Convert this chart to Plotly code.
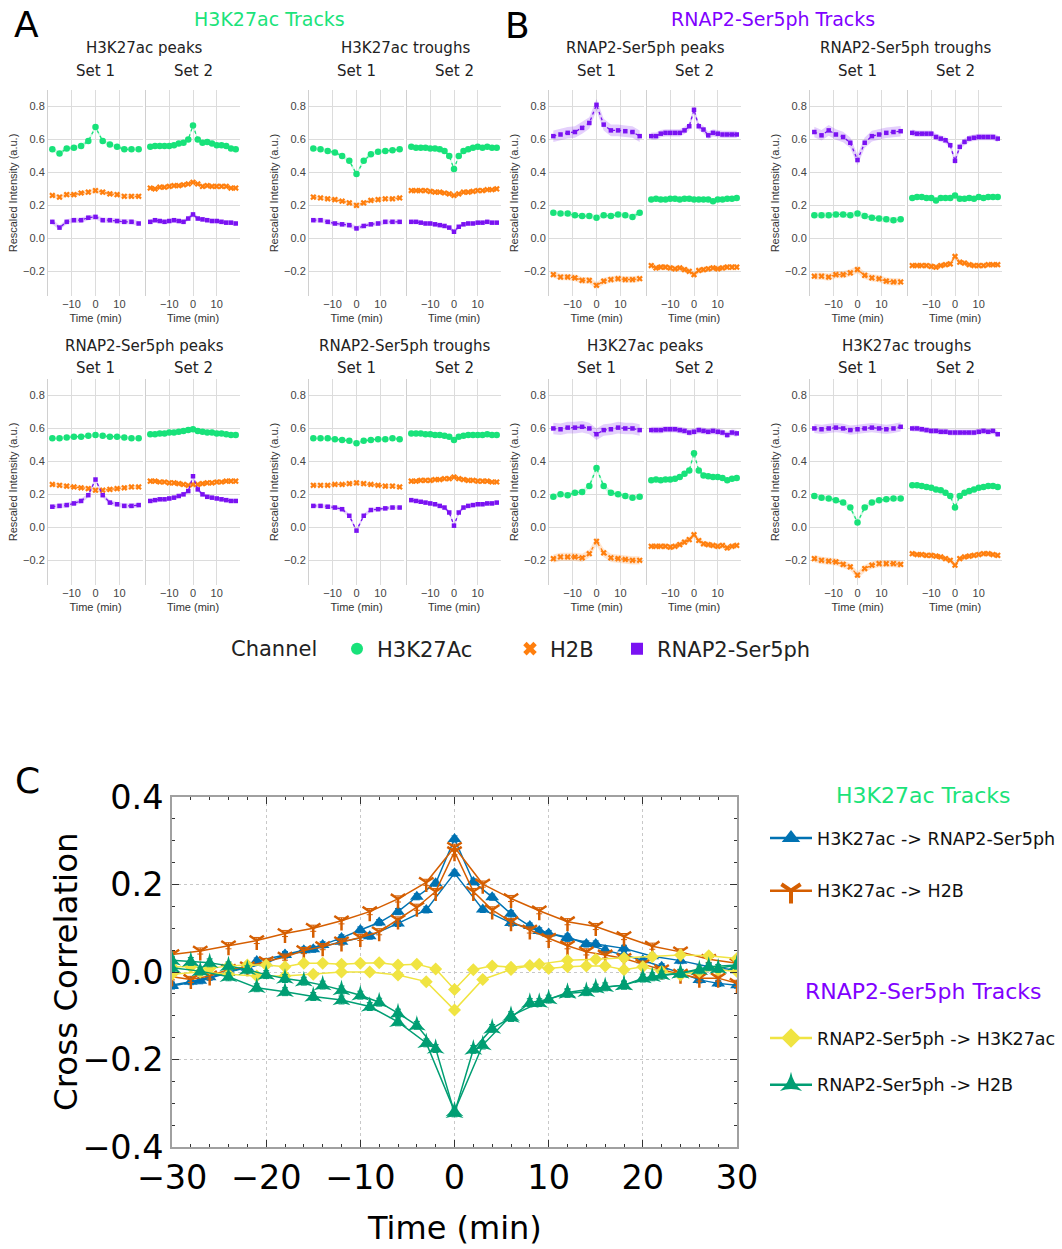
import plotly.graph_objects as go

W, H = 1062, 1249

# ---------------- time axes ----------------
T_SET1 = [-18, -15, -12, -9, -6, -3, 0, 3, 6, 9, 12, 15, 18]
T_SET2 = [-18, -16, -14, -12, -10, -8, -6, -4, -2, 0, 2, 4, 6, 8, 10, 12, 14, 16, 18]

CHANNELS = ["H3K27Ac", "H2B", "RNAP2-Ser5ph"]

# ---------------- panel A / B data ----------------
# P1: H3K27ac Tracks - H3K27ac peaks
P1_S1_H3 = [0.54, 0.515, 0.545, 0.55, 0.56, 0.59, 0.675, 0.59, 0.57, 0.555, 0.54, 0.54, 0.54]
P1_S1_H2B = [0.26, 0.25, 0.265, 0.265, 0.275, 0.28, 0.29, 0.28, 0.27, 0.265, 0.255, 0.255, 0.255]
P1_S1_POL = [0.10, 0.065, 0.10, 0.11, 0.11, 0.125, 0.13, 0.11, 0.11, 0.105, 0.10, 0.10, 0.09]
P1_S2_H3 = [0.555, 0.56, 0.56, 0.56, 0.56, 0.565, 0.575, 0.58, 0.60, 0.685, 0.60, 0.58, 0.585, 0.575, 0.565, 0.565, 0.56, 0.545, 0.54]
P1_S2_H2B = [0.305, 0.30, 0.31, 0.31, 0.315, 0.32, 0.32, 0.325, 0.33, 0.34, 0.33, 0.315, 0.32, 0.315, 0.315, 0.315, 0.315, 0.305, 0.305]
P1_S2_POL = [0.10, 0.11, 0.105, 0.10, 0.105, 0.11, 0.105, 0.10, 0.12, 0.145, 0.12, 0.115, 0.11, 0.105, 0.105, 0.10, 0.095, 0.095, 0.09]

# P2: H3K27ac Tracks - H3K27ac troughs
P2_S1_H3 = [0.545, 0.54, 0.53, 0.52, 0.50, 0.47, 0.39, 0.47, 0.51, 0.525, 0.53, 0.535, 0.54]
P2_S1_H2B = [0.25, 0.245, 0.24, 0.235, 0.225, 0.215, 0.20, 0.215, 0.23, 0.235, 0.24, 0.24, 0.245]
P2_S1_POL = [0.11, 0.11, 0.10, 0.09, 0.085, 0.08, 0.06, 0.075, 0.085, 0.09, 0.10, 0.10, 0.10]
P2_S2_H3 = [0.555, 0.55, 0.55, 0.55, 0.545, 0.545, 0.54, 0.53, 0.50, 0.42, 0.50, 0.53, 0.54, 0.55, 0.555, 0.55, 0.555, 0.55, 0.55]
P2_S2_H2B = [0.29, 0.29, 0.29, 0.29, 0.285, 0.28, 0.28, 0.275, 0.27, 0.26, 0.27, 0.28, 0.28, 0.285, 0.29, 0.29, 0.295, 0.295, 0.30]
P2_S2_POL = [0.10, 0.10, 0.095, 0.09, 0.09, 0.085, 0.08, 0.075, 0.065, 0.04, 0.07, 0.085, 0.09, 0.09, 0.095, 0.095, 0.10, 0.095, 0.095]

# P3: RNAP2-Ser5ph Tracks - RNAP2-Ser5ph peaks
P3_S1_H3 = [0.155, 0.15, 0.15, 0.14, 0.135, 0.135, 0.125, 0.14, 0.135, 0.145, 0.14, 0.13, 0.155]
P3_S1_H2B = [-0.22, -0.235, -0.235, -0.24, -0.255, -0.255, -0.285, -0.26, -0.25, -0.245, -0.25, -0.25, -0.245]
P3_S1_POL = [0.62, 0.63, 0.64, 0.645, 0.67, 0.70, 0.81, 0.69, 0.655, 0.655, 0.65, 0.645, 0.62]
P3_S2_H3 = [0.235, 0.24, 0.235, 0.235, 0.24, 0.24, 0.235, 0.24, 0.24, 0.235, 0.235, 0.235, 0.235, 0.225, 0.235, 0.235, 0.24, 0.24, 0.245]
P3_S2_H2B = [-0.165, -0.18, -0.175, -0.175, -0.18, -0.185, -0.18, -0.19, -0.20, -0.22, -0.195, -0.19, -0.185, -0.18, -0.185, -0.18, -0.175, -0.175, -0.175]
P3_S2_POL = [0.62, 0.62, 0.635, 0.64, 0.64, 0.64, 0.64, 0.655, 0.68, 0.78, 0.68, 0.66, 0.625, 0.64, 0.635, 0.63, 0.63, 0.63, 0.63]

# P4: RNAP2-Ser5ph Tracks - RNAP2-Ser5ph troughs
P4_S1_H3 = [0.14, 0.14, 0.14, 0.145, 0.145, 0.14, 0.15, 0.135, 0.125, 0.12, 0.115, 0.11, 0.115]
P4_S1_H2B = [-0.23, -0.23, -0.235, -0.22, -0.22, -0.21, -0.19, -0.225, -0.24, -0.245, -0.26, -0.265, -0.265]
P4_S1_POL = [0.645, 0.625, 0.655, 0.63, 0.615, 0.58, 0.475, 0.58, 0.62, 0.63, 0.64, 0.645, 0.65]
P4_S2_H3 = [0.245, 0.25, 0.25, 0.245, 0.245, 0.23, 0.245, 0.245, 0.245, 0.26, 0.24, 0.24, 0.245, 0.24, 0.25, 0.245, 0.25, 0.25, 0.25]
P4_S2_H2B = [-0.165, -0.165, -0.165, -0.165, -0.17, -0.175, -0.165, -0.16, -0.155, -0.11, -0.145, -0.15, -0.16, -0.165, -0.165, -0.165, -0.16, -0.16, -0.16]
P4_S2_POL = [0.64, 0.635, 0.635, 0.635, 0.635, 0.615, 0.605, 0.595, 0.565, 0.47, 0.555, 0.585, 0.605, 0.61, 0.615, 0.615, 0.615, 0.615, 0.605]

# P5: H3K27ac Tracks - RNAP2-Ser5ph peaks
P5_S1_H3 = [0.54, 0.54, 0.545, 0.55, 0.55, 0.555, 0.56, 0.555, 0.55, 0.55, 0.545, 0.54, 0.54]
P5_S1_H2B = [0.26, 0.255, 0.25, 0.245, 0.24, 0.235, 0.225, 0.225, 0.23, 0.235, 0.24, 0.245, 0.245]
P5_S1_POL = [0.125, 0.13, 0.135, 0.145, 0.16, 0.195, 0.29, 0.195, 0.15, 0.14, 0.13, 0.13, 0.135]
P5_S2_H3 = [0.565, 0.565, 0.57, 0.57, 0.575, 0.575, 0.58, 0.585, 0.59, 0.595, 0.585, 0.58, 0.575, 0.575, 0.57, 0.57, 0.565, 0.56, 0.56]
P5_S2_H2B = [0.28, 0.28, 0.275, 0.275, 0.27, 0.27, 0.265, 0.26, 0.255, 0.26, 0.26, 0.265, 0.27, 0.27, 0.275, 0.275, 0.28, 0.28, 0.28]
P5_S2_POL = [0.16, 0.165, 0.17, 0.17, 0.175, 0.18, 0.19, 0.20, 0.22, 0.31, 0.23, 0.20, 0.185, 0.18, 0.175, 0.17, 0.165, 0.16, 0.16]

# P6: H3K27ac Tracks - RNAP2-Ser5ph troughs
P6_S1_H3 = [0.54, 0.54, 0.54, 0.535, 0.53, 0.525, 0.51, 0.525, 0.53, 0.535, 0.535, 0.54, 0.535]
P6_S1_H2B = [0.255, 0.255, 0.255, 0.26, 0.26, 0.265, 0.27, 0.265, 0.26, 0.255, 0.25, 0.25, 0.245]
P6_S1_POL = [0.13, 0.13, 0.125, 0.12, 0.11, 0.07, -0.02, 0.07, 0.105, 0.11, 0.115, 0.12, 0.12]
P6_S2_H3 = [0.57, 0.57, 0.57, 0.565, 0.565, 0.56, 0.56, 0.555, 0.55, 0.53, 0.55, 0.555, 0.56, 0.56, 0.56, 0.56, 0.565, 0.56, 0.56]
P6_S2_H2B = [0.28, 0.28, 0.285, 0.285, 0.285, 0.29, 0.29, 0.295, 0.295, 0.305, 0.295, 0.29, 0.285, 0.285, 0.28, 0.28, 0.28, 0.275, 0.275]
P6_S2_POL = [0.165, 0.16, 0.155, 0.15, 0.145, 0.14, 0.13, 0.12, 0.09, 0.01, 0.09, 0.12, 0.13, 0.135, 0.14, 0.14, 0.145, 0.145, 0.15]

# P7: RNAP2-Ser5ph Tracks - H3K27ac peaks
P7_S1_H3 = [0.185, 0.20, 0.195, 0.21, 0.215, 0.25, 0.36, 0.25, 0.21, 0.20, 0.19, 0.18, 0.185]
P7_S1_H2B = [-0.19, -0.18, -0.18, -0.18, -0.185, -0.16, -0.085, -0.155, -0.185, -0.19, -0.195, -0.20, -0.20]
P7_S1_POL = [0.60, 0.595, 0.605, 0.605, 0.61, 0.60, 0.565, 0.59, 0.595, 0.605, 0.60, 0.60, 0.59]
P7_S2_H3 = [0.285, 0.29, 0.285, 0.29, 0.29, 0.295, 0.305, 0.325, 0.345, 0.45, 0.345, 0.315, 0.31, 0.305, 0.305, 0.30, 0.285, 0.295, 0.30]
P7_S2_H2B = [-0.115, -0.115, -0.115, -0.115, -0.12, -0.115, -0.105, -0.09, -0.075, -0.045, -0.08, -0.10, -0.105, -0.11, -0.115, -0.11, -0.125, -0.115, -0.11]
P7_S2_POL = [0.59, 0.59, 0.59, 0.595, 0.595, 0.595, 0.59, 0.585, 0.575, 0.58, 0.59, 0.585, 0.58, 0.585, 0.58, 0.575, 0.56, 0.575, 0.57]

# P8: RNAP2-Ser5ph Tracks - H3K27ac troughs
P8_S1_H3 = [0.19, 0.18, 0.175, 0.165, 0.15, 0.12, 0.03, 0.12, 0.15, 0.165, 0.17, 0.175, 0.175]
P8_S1_H2B = [-0.19, -0.20, -0.205, -0.21, -0.225, -0.24, -0.29, -0.25, -0.23, -0.22, -0.22, -0.22, -0.225]
P8_S1_POL = [0.60, 0.595, 0.60, 0.605, 0.60, 0.59, 0.595, 0.60, 0.605, 0.60, 0.595, 0.60, 0.61]
P8_S2_H3 = [0.255, 0.255, 0.25, 0.245, 0.24, 0.23, 0.225, 0.21, 0.19, 0.12, 0.19, 0.21, 0.22, 0.23, 0.24, 0.245, 0.25, 0.25, 0.245]
P8_S2_H2B = [-0.16, -0.165, -0.165, -0.17, -0.17, -0.175, -0.18, -0.19, -0.20, -0.23, -0.19, -0.18, -0.175, -0.17, -0.165, -0.16, -0.16, -0.165, -0.17]
P8_S2_POL = [0.60, 0.60, 0.595, 0.59, 0.585, 0.585, 0.58, 0.58, 0.575, 0.575, 0.575, 0.575, 0.575, 0.575, 0.58, 0.585, 0.58, 0.585, 0.565]

# confidence half-widths per channel (H3K27Ac, H2B, RNAP2-Ser5ph), per panel & set
P1_CI = [[0.012, 0.013, 0.015], [0.010, 0.010, 0.014]]
P2_CI = [[0.012, 0.012, 0.014], [0.010, 0.010, 0.012]]
P3_CI = [[0.015, 0.020, 0.035], [0.012, 0.018, 0.022]]
P4_CI = [[0.018, 0.022, 0.032], [0.013, 0.017, 0.020]]
P5_CI = [[0.010, 0.012, 0.014], [0.008, 0.010, 0.012]]
P6_CI = [[0.010, 0.010, 0.012], [0.008, 0.010, 0.012]]
P7_CI = [[0.015, 0.025, 0.035], [0.013, 0.018, 0.020]]
P8_CI = [[0.015, 0.022, 0.028], [0.012, 0.016, 0.018]]

PANEL_TITLES = ["H3K27ac peaks", "H3K27ac troughs", "RNAP2-Ser5ph peaks", "RNAP2-Ser5ph troughs",
                "RNAP2-Ser5ph peaks", "RNAP2-Ser5ph troughs", "H3K27ac peaks", "H3K27ac troughs"]
SET_LABELS = ["Set 1", "Set 2"]

# ---------------- panel C data ----------------
TC_SET1 = list(range(-30, 31, 3))
TC_SET2 = list(range(-30, 31, 2))

C_H3_POL_S1 = [-0.032, -0.020, -0.002, 0.025, 0.039, 0.052, 0.069, 0.082, 0.111, 0.142, 0.226,
               0.143, 0.112, 0.094, 0.077, 0.064, 0.054, 0.036, 0.026, 0.012, 0.004]
C_H3_POL_S2 = [-0.030, -0.022, -0.012, 0.000, 0.010, 0.020, 0.040, 0.050, 0.062, 0.078, 0.096, 0.113,
               0.138, 0.172, 0.203, 0.304, 0.206, 0.171, 0.133, 0.105, 0.088, 0.080, 0.064, 0.050,
               0.039, 0.027, 0.012, -0.002, -0.018, -0.026, -0.030]
C_H3_H2B_S1 = [0.040, 0.048, 0.060, 0.072, 0.088, 0.100, 0.117, 0.138, 0.167, 0.205, 0.285,
               0.201, 0.168, 0.140, 0.115, 0.104, 0.081, 0.059, 0.046, 0.029, 0.020]
C_H3_H2B_S2 = [-0.011, -0.017, -0.009, 0.006, 0.012, 0.024, 0.034, 0.049, 0.058, 0.069, 0.079, 0.092,
               0.119, 0.148, 0.184, 0.275, 0.184, 0.142, 0.115, 0.096, 0.077, 0.060, 0.046, 0.039,
               0.031, 0.018, 0.005, -0.005, -0.014, -0.014, -0.026]
C_POL_H3_S1 = [-0.005, 0.000, -0.005, -0.009, -0.009, -0.005, 0.000, 0.000, -0.007, -0.022, -0.087,
               -0.017, 0.006, 0.018, 0.027, 0.029, 0.032, 0.035, 0.039, 0.037, 0.031]
C_POL_H3_S2 = [0.012, 0.012, 0.008, 0.014, 0.016, 0.016, 0.012, 0.020, 0.020, 0.018, 0.020, 0.021,
               0.016, 0.018, 0.007, -0.040, 0.005, 0.014, 0.011, 0.015, 0.008, 0.012, 0.014, 0.014,
               0.005, 0.012, 0.001, -0.007, 0.001, 0.005, 0.001]
C_POL_H2B_S1 = [0.010, 0.002, -0.011, -0.036, -0.045, -0.056, -0.064, -0.079, -0.114, -0.162, -0.318,
                -0.167, -0.100, -0.070, -0.047, -0.037, -0.030, -0.011, -0.003, 0.012, 0.016]
C_POL_H2B_S2 = [0.027, 0.024, 0.021, 0.014, 0.005, -0.006, -0.015, -0.021, -0.030, -0.041, -0.053, -0.069,
                -0.094, -0.122, -0.175, -0.322, -0.177, -0.129, -0.104, -0.070, -0.062, -0.049, -0.045,
                -0.034, -0.030, -0.014, -0.007, -0.003, 0.005, 0.008, 0.016]
C_ERR = [0.007, 0.007, 0.006, 0.009]  # per series error-bar half-size

C_NAMES = ["H3K27ac -> RNAP2-Ser5ph", "H3K27ac -> H2B", "RNAP2-Ser5ph -> H3K27ac", "RNAP2-Ser5ph -> H2B"]

# ---------------- styles ----------------
CH_COLORS = ["#18e27a", "#ff7f0e", "#7a12f2"]
CH_FILL = ["rgba(24,226,122,0.2)", "rgba(255,127,14,0.2)", "rgba(122,18,242,0.2)"]
CH_SYMBOL = ["circle", "x", "square"]
CH_SIZE = [6.5, 5.5, 4.5]
GREEN_T = "#1be37a"
PURPLE_T = "#8000ff"
C_COLORS = ["#0072B2", "#D55E00", "#F0E442", "#009E73"]
C_SYMBOLS = ["triangle-up", "y-down", "diamond", "star-triangle-up"]
C_MSIZE = [12, 12, 10, 13]
C_LEG_MSIZE = [16, 16, 15, 16]

DJ = "DejaVu Sans"
AR = "Liberation Sans, Arial"

COL_X = [48, 309, 549, 810]
ROW_Y = [90, 379]
PH = 206
CH_LEGEND_X = [337, 510, 617]        # left edge of each channel legend entry (px)
CH_LEGEND_IDS = ["legend", "legend4", "legend5"]

panels = [
    (P1_S1_H3, P1_S1_H2B, P1_S1_POL, P1_S2_H3, P1_S2_H2B, P1_S2_POL, P1_CI),
    (P2_S1_H3, P2_S1_H2B, P2_S1_POL, P2_S2_H3, P2_S2_H2B, P2_S2_POL, P2_CI),
    (P3_S1_H3, P3_S1_H2B, P3_S1_POL, P3_S2_H3, P3_S2_H2B, P3_S2_POL, P3_CI),
    (P4_S1_H3, P4_S1_H2B, P4_S1_POL, P4_S2_H3, P4_S2_H2B, P4_S2_POL, P4_CI),
    (P5_S1_H3, P5_S1_H2B, P5_S1_POL, P5_S2_H3, P5_S2_H2B, P5_S2_POL, P5_CI),
    (P6_S1_H3, P6_S1_H2B, P6_S1_POL, P6_S2_H3, P6_S2_H2B, P6_S2_POL, P6_CI),
    (P7_S1_H3, P7_S1_H2B, P7_S1_POL, P7_S2_H3, P7_S2_H2B, P7_S2_POL, P7_CI),
    (P8_S1_H3, P8_S1_H2B, P8_S1_POL, P8_S2_H3, P8_S2_H2B, P8_S2_POL, P8_CI),
]

fig = go.Figure()
layout = {}
annotations = []


def axname(k, letter):
    return f"{letter}axis" if k == 1 else f"{letter}axis{k}"


def axref(k, letter):
    return letter if k == 1 else f"{letter}{k}"


for i, pdata in enumerate(panels):
    row, col = i // 4, i % 4
    top = ROW_Y[row]
    ci = pdata[6]
    for s in range(2):
        k = 2 * i + s + 1
        left = COL_X[col] + (0 if s == 0 else 98)
        width = 95 if s == 0 else 94
        T = T_SET1 if s == 0 else T_SET2
        series = pdata[0:3] if s == 0 else pdata[3:6]
        for c in range(3):
            vals = series[c]
            up = [v + ci[s][c] for v in vals]
            lo = [v - ci[s][c] for v in vals]
            fig.add_trace(go.Scatter(
                x=T + T[::-1], y=up + lo[::-1], fill="toself", fillcolor=CH_FILL[c],
                line=dict(width=0), mode="lines", hoverinfo="skip", showlegend=False,
                xaxis=axref(k, "x"), yaxis=axref(k, "y")))
            fig.add_trace(go.Scatter(
                x=T, y=vals, mode="lines+markers",
                line=dict(color=CH_COLORS[c], width=1.3, dash="dot"),
                marker=dict(symbol=CH_SYMBOL[c], size=CH_SIZE[c], color=CH_COLORS[c], line=dict(width=0)),
                showlegend=False, name=CHANNELS[c],
                xaxis=axref(k, "x"), yaxis=axref(k, "y")))
        layout[axname(k, "x")] = dict(
            domain=[left / W, (left + width) / W], anchor=axref(k, "y"),
            range=[-19.8, 19.8], tickvals=[-10, 0, 10], showgrid=True, gridcolor="#dcdcdc",
            gridwidth=1, zeroline=False, showline=False, ticks="",
            tickfont=dict(family=AR, size=11, color="#444"),
            title=dict(text="Time (min)", font=dict(family=AR, size=11, color="#333"), standoff=5))
        layout[axname(k, "y")] = dict(
            domain=[1 - (top + PH) / H, 1 - top / H], anchor=axref(k, "x"),
            range=[-0.35, 0.9], tick0=0, dtick=0.2, tickformat=".1f", showgrid=True,
            gridcolor="#dcdcdc", zeroline=False, showline=True, linecolor="#d0d0d0", linewidth=1,
            ticks="", showticklabels=(s == 0),
            tickfont=dict(family=AR, size=11, color="#444"),
            title=dict(text="Rescaled Intensity (a.u.)" if s == 0 else "",
                       font=dict(family=AR, size=11, color="#333"), standoff=3))
        annotations.append(dict(
            text=SET_LABELS[s], x=(left + width / 2) / W, y=1 - ([71, 368][row]) / H,
            xref="paper", yref="paper", showarrow=False, xanchor="center", yanchor="middle",
            font=dict(family=DJ, size=15, color="#222")))
    annotations.append(dict(
        text=PANEL_TITLES[i], x=(COL_X[col] + 96) / W, y=1 - ([48, 346][row]) / H,
        xref="paper", yref="paper", showarrow=False, xanchor="center", yanchor="middle",
        font=dict(family=DJ, size=15, color="#222")))

# channel legend (top) - one legend box per entry
for c in range(3):
    fig.add_trace(go.Scatter(
        x=[None], y=[None], mode="markers", name=CHANNELS[c],
        marker=dict(symbol=CH_SYMBOL[c], size=12, color=CH_COLORS[c], line=dict(width=0)),
        legend=CH_LEGEND_IDS[c], showlegend=True, xaxis="x", yaxis="y"))

# ---------------- panel C ----------------
KC = 17
c_series = [
    (C_H3_POL_S1, C_H3_POL_S2),
    (C_H3_H2B_S1, C_H3_H2B_S2),
    (C_POL_H3_S1, C_POL_H3_S2),
    (C_POL_H2B_S1, C_POL_H2B_S2),
]
for j, (s1, s2) in enumerate(c_series):
    col = C_COLORS[j]
    is_line = C_SYMBOLS[j].startswith("y-")
    for si, (T, vals) in enumerate([(TC_SET1, s1), (TC_SET2, s2)]):
        mk = dict(symbol=C_SYMBOLS[j], size=C_MSIZE[j], color=col,
                  line=dict(width=2.5 if is_line else 0, color=col))
        fig.add_trace(go.Scatter(
            x=T, y=vals, mode="lines+markers", name=C_NAMES[j],
            line=dict(color=col, width=1.5), marker=mk,
            error_y=dict(type="data", array=[C_ERR[j]] * len(vals), color=col, thickness=1, width=3),
            legendgroup=f"c{j}", showlegend=False,
            xaxis=axref(KC, "x"), yaxis=axref(KC, "y")))
    fig.add_trace(go.Scatter(
        x=[None], y=[None], mode="lines+markers", name=C_NAMES[j],
        line=dict(color=col, width=2.5),
        marker=dict(symbol=C_SYMBOLS[j], size=C_LEG_MSIZE[j], color=col,
                    line=dict(width=4 if is_line else 0, color=col)),
        legendgroup=f"c{j}", showlegend=True,
        legend="legend2" if j < 2 else "legend3",
        xaxis=axref(KC, "x"), yaxis=axref(KC, "y")))

layout[axname(KC, "x")] = dict(
    domain=[172 / W, 737 / W], anchor=axref(KC, "y"), range=[-30, 30], dtick=10, tick0=0,
    showgrid=True, gridcolor="#c8c8c8", griddash="dot", gridwidth=1, zeroline=False,
    showline=True, linecolor="#a0a0a0", linewidth=1.5, mirror="ticks",
    ticks="inside", ticklen=7, tickcolor="#333", tickwidth=1,
    minor=dict(ticks="inside", dtick=2, ticklen=3.5, tickcolor="#333", showgrid=False),
    tickfont=dict(family=DJ, size=33.5, color="#000"))
layout[axname(KC, "y")] = dict(
    domain=[1 - 1147 / H, 1 - 797 / H], anchor=axref(KC, "x"), range=[-0.4, 0.4], dtick=0.2,
    tick0=0, tickformat=".1f",
    showgrid=True, gridcolor="#c8c8c8", griddash="dot", gridwidth=1, zeroline=False,
    showline=True, linecolor="#a0a0a0", linewidth=1.5, mirror="ticks",
    ticks="inside", ticklen=7, tickcolor="#333", tickwidth=1,
    minor=dict(ticks="inside", dtick=0.05, ticklen=3.5, tickcolor="#333", showgrid=False),
    tickfont=dict(family=DJ, size=33.5, color="#000"))

# ---------------- text annotations ----------------
for txt, x, y, size, color, ang in [
    ("A", 26, 24, 36, "#000", 0), ("B", 517, 25, 36, "#000", 0), ("C", 27, 780, 36, "#000", 0),
    ("H3K27ac Tracks", 269, 19, 19, GREEN_T, 0), ("RNAP2-Ser5ph Tracks", 773, 19, 19, PURPLE_T, 0),
    ("H3K27ac Tracks", 923, 795, 22, GREEN_T, 0), ("RNAP2-Ser5ph Tracks", 923, 991, 22, PURPLE_T, 0),
    ("Channel", 274, 649, 21, "#222", 0),
    ("Time (min)", 454, 1228, 32, "#000", 0), ("Cross Correlation", 66, 972, 32.5, "#000", -90),
]:
    annotations.append(dict(text=txt, x=x / W, y=1 - y / H, xref="paper", yref="paper",
                            showarrow=False, xanchor="center", yanchor="middle", textangle=ang,
                            font=dict(family=DJ, size=size, color=color)))

legends = {}
for c in range(3):
    legends[CH_LEGEND_IDS[c]] = dict(
        x=CH_LEGEND_X[c] / W, y=1 - 649 / H, xanchor="left", yanchor="middle",
        font=dict(family=DJ, size=21, color="#222"), itemsizing="constant",
        bgcolor="rgba(0,0,0,0)", borderwidth=0)
legends["legend2"] = dict(x=765 / W, y=1 - 820 / H, xanchor="left", yanchor="top", itemwidth=42,
                          font=dict(family=DJ, size=17.5, color="#111"), itemsizing="trace",
                          traceorder="grouped", tracegroupgap=27, bgcolor="rgba(0,0,0,0)")
legends["legend3"] = dict(x=765 / W, y=1 - 1020 / H, xanchor="left", yanchor="top", itemwidth=42,
                          font=dict(family=DJ, size=17.5, color="#111"), itemsizing="trace",
                          traceorder="grouped", tracegroupgap=21, bgcolor="rgba(0,0,0,0)")

fig.update_layout(
    width=W, height=H, margin=dict(l=0, r=0, t=0, b=0, pad=0, autoexpand=False), autosize=False,
    paper_bgcolor="white", plot_bgcolor="white",
    annotations=annotations,
    **legends,
    **layout,
)

fig.write_html("out.html", config={"displayModeBar": False},
               post_script="document.body.style.margin='0px';document.body.style.padding='0px';")
